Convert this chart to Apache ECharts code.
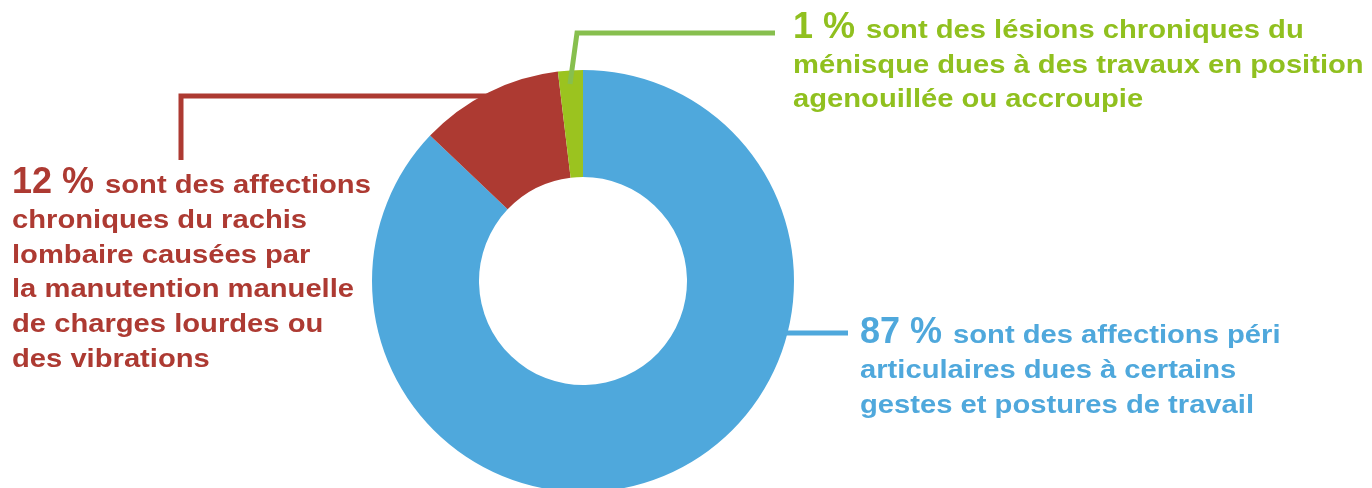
<!DOCTYPE html>
<html>
<head>
<meta charset="utf-8">
<script src="https://cdn.jsdelivr.net/npm/echarts@6/dist/echarts.min.js"></script>
<style>
  html, body { margin: 0; padding: 0; background: #fff; }
  #chart { width: 1372px; height: 488px; }
</style>
</head>
<body>
<div id="chart"></div>
<script>
const categories = ['Affections péri articulaires', 'Affections du rachis lombaire', 'Lésions chroniques du ménisque'];
const shares = [87.1, 11.0, 1.9];
const percentLabels = ['87 %', '12 %', '1 %'];
const labelTexts = [
	['sont des affections péri', 'articulaires dues à certains', 'gestes et postures de travail'],
	['sont des affections', 'chroniques du rachis', 'lombaire causées par', 'la manutention manuelle', 'de charges lourdes ou', 'des vibrations'],
	['sont des lésions chroniques du', 'ménisque dues à des travaux en position', 'agenouillée ou accroupie']
];

const sliceColors = ['#4fa8dc', '#ad3a32', '#9bc31f'];
const textColors = ['#4fa8dc', '#ad3a32', '#90c01f'];
const lineColors = ['#4fa8dc', '#ad3a32', '#87bf4e'];

const BIG = 36;       // percentage font size
const SMALL = 25;     // description font size
const STRETCH = 1.167; // description text is drawn a bit wider than plain Arial
const MID = 0.265;    // zrender 'middle' sits this far (em) above the baseline

const chart = echarts.init(document.getElementById('chart'));

const measure = document.createElement('canvas').getContext('2d');
measure.font = 'bold ' + BIG + 'px Arial';

// one label: big percentage + wrapped description, lines placed by baseline
const labelBlock = (i, x0, base0, gap) => {
	const els = [];
	const color = textColors[i];
	els.push({
		type: 'text', x: x0, y: base0 - MID * BIG, z: 100,
		style: {
			text: percentLabels[i], fill: color, verticalAlign: 'middle',
			font: 'bold ' + BIG + 'px Arial'
		}
	});
	const bigW = measure.measureText(percentLabels[i]).width;
	labelTexts[i].forEach((line, k) => {
		els.push({
			type: 'text',
			x: k === 0 ? x0 + bigW + 11 : x0,
			y: base0 + gap * k - MID * SMALL,
			scaleX: STRETCH,
			z: 100,
			style: {
				text: line, fill: color, verticalAlign: 'middle',
				font: 'bold ' + SMALL + 'px Arial'
			}
		});
	});
	return els;
};

const leader = (i, pts) => ({
	type: 'polyline',
	z: 100,
	shape: { points: pts },
	style: { stroke: lineColors[i], lineWidth: 5, fill: null, lineJoin: 'miter' }
});

const option = {
	animation: false,
	backgroundColor: '#ffffff',
	series: [
		{
			type: 'pie',
			center: [583, 281],
			radius: [104, 211],
			startAngle: 90,
			clockwise: true,
			label: { show: false },
			labelLine: { show: false },
			emphasis: { disabled: true },
			itemStyle: { borderWidth: 0 },
			data: categories.map((name, i) => ({
				name: name,
				value: shares[i],
				itemStyle: { color: sliceColors[i] }
			}))
		}
	],
	graphic: [
		leader(2, [[570, 84], [577, 33], [775, 33]]),
		leader(1, [[490, 96], [181, 96], [181, 160]]),
		leader(0, [[780, 333], [848, 333]])
	]
		.concat(labelBlock(2, 793, 38, 34.5))
		.concat(labelBlock(1, 12, 193, 34.7))
		.concat(labelBlock(0, 860, 343, 35))
};

chart.setOption(option);
</script>
</body>
</html>
